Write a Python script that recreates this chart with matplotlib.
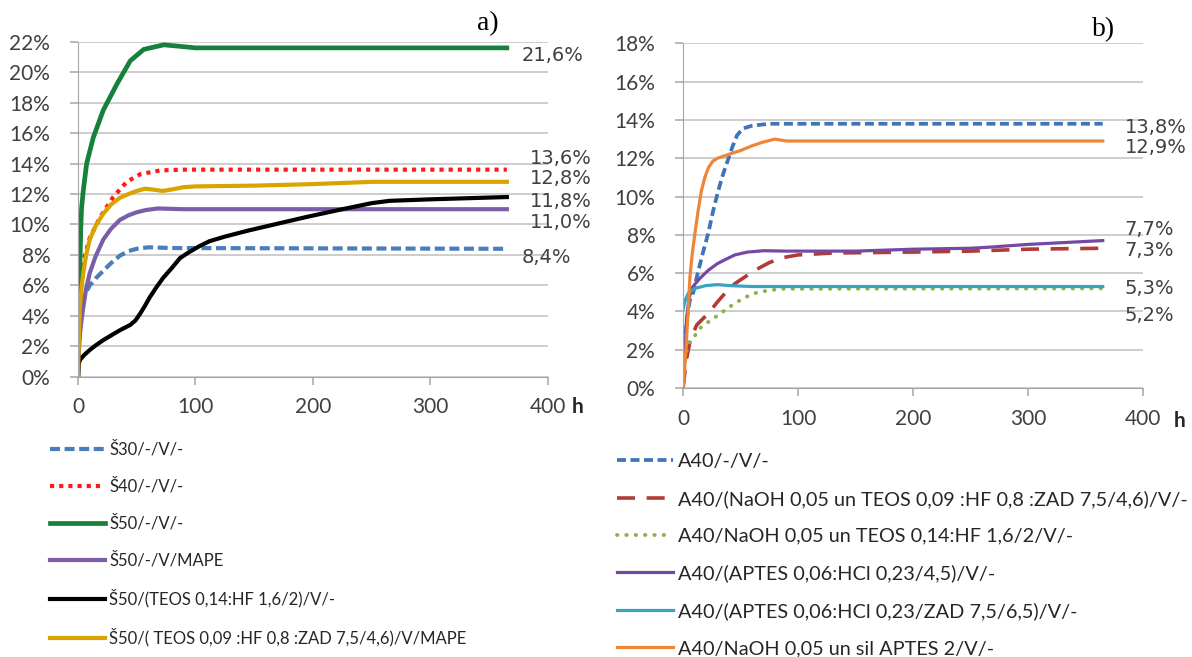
import matplotlib
matplotlib.use("Agg")
import matplotlib.pyplot as plt
from matplotlib.ticker import PercentFormatter, MultipleLocator

plt.rcParams['font.family'] = ['Lato', 'DejaVu Sans']

# a) Š series, time in hours, mass gain in %
t_s30 = [0, 1.5, 3.1, 6, 10, 15, 21.5, 28, 35.7, 43, 50, 60, 80, 365]
v_s30 = [0, 4.0, 4.8, 5.4, 6.0, 6.45, 6.95, 7.45, 7.95, 8.25, 8.4, 8.5, 8.45, 8.4]

t_s40 = [0, 1, 2, 4.5, 10, 18.7, 30, 41.5, 53, 70, 90, 365]
v_s40 = [0, 4.5, 6.2, 7.6, 9.1, 10.45, 11.8, 12.8, 13.3, 13.55, 13.6, 13.6]

t_s50 = [0, 0.5, 1, 1.7, 2.5, 3.1, 4.5, 7.4, 13, 21.5, 33, 44.5, 56, 73, 87, 100, 365]
v_s50 = [0, 4.0, 6.0, 7.5, 10.0, 11.1, 12.2, 14.0, 15.7, 17.5, 19.2, 20.75, 21.5, 21.8, 21.7, 21.6, 21.6]

t_s50_mape = [0, 1, 1.7, 3, 4.5, 7, 10, 15, 21.5, 28, 35.7, 43, 50, 58, 68, 90, 365]
v_s50_mape = [0, 2.0, 2.8, 3.7, 4.55, 5.8, 6.8, 7.9, 9.0, 9.7, 10.3, 10.6, 10.8, 10.95, 11.05, 11.0, 11.0]

t_s50_teos = [0, 0.5, 1.7, 5, 10, 15, 21.5, 28, 35.7, 44.5, 49, 53, 57, 61, 67, 72.6, 80, 87,
              95, 104, 112, 125, 145, 170, 195, 225, 250, 265, 300, 365]
v_s50_teos = [0, 0.8, 1.1, 1.4, 1.75, 2.05, 2.4, 2.7, 3.05, 3.4, 3.7, 4.15, 4.65, 5.2, 5.9, 6.5, 7.15, 7.8,
              8.2, 8.6, 8.9, 9.2, 9.6, 10.05, 10.5, 11.0, 11.4, 11.55, 11.65, 11.8]

t_s50_zad = [0, 0.8, 1.7, 3, 4.5, 7, 10, 15, 21.5, 28, 35.7, 43, 50, 57, 63, 72, 80, 90,
             100, 150, 200, 250, 300, 365]
v_s50_zad = [0, 2.5, 4.6, 5.8, 6.8, 8.0, 9.0, 9.9, 10.7, 11.3, 11.75, 12.0, 12.2, 12.35, 12.3, 12.2, 12.3, 12.45,
             12.5, 12.55, 12.65, 12.8, 12.8, 12.8]

labels_a = ["Š30/-/V/-", "Š40/-/V/-", "Š50/-/V/-", "Š50/-/V/MAPE",
            "Š50/(TEOS 0,14:HF 1,6/2)/V/-", "Š50/( TEOS 0,09 :HF 0,8 :ZAD 7,5/4,6)/V/MAPE"]
end_a = ["21,6%", "13,6%", "12,8%", "11,8%", "11,0%", "8,4%"]

# b) A40 series
t_a40 = [0, 3, 6, 9, 12, 17, 22, 26, 30.6, 35, 39, 43, 47, 52, 60, 75, 365]
v_a40 = [0, 3.5, 4.6, 5.0, 5.8, 7.0, 8.1, 9.2, 10.3, 11.2, 11.9, 12.6, 13.2, 13.55, 13.7, 13.8, 13.8]

t_a40_naoh_zad = [0, 3, 6, 9, 12, 17, 22, 30, 36.5, 45, 55, 62.6, 75, 86, 100, 130, 200, 250, 300, 365]
v_a40_naoh_zad = [0, 1.5, 2.4, 2.9, 3.3, 3.6, 3.9, 4.5, 4.95, 5.45, 5.85, 6.15, 6.55, 6.8, 6.95, 7.05, 7.1, 7.15, 7.25, 7.3]

t_a40_naoh_teos = [0, 2, 4, 8, 12, 16, 22, 28, 35, 42, 50, 58, 65, 75, 86, 365]
v_a40_naoh_teos = [0, 1.5, 2.3, 2.5, 2.9, 3.2, 3.45, 3.7, 4.0, 4.3, 4.6, 4.85, 5.0, 5.1, 5.18, 5.2]

t_a40_aptes = [0, 3, 5, 7.5, 10, 15, 22, 30, 36.5, 45, 56, 70, 90, 150, 200, 250, 265, 300, 365]
v_a40_aptes = [0, 3.5, 4.6, 5.2, 5.4, 5.75, 6.15, 6.5, 6.7, 6.95, 7.1, 7.17, 7.15, 7.15, 7.25, 7.3, 7.35, 7.5, 7.7]

t_a40_aptes_zad = [0, 2, 5, 10, 20, 30, 40, 60, 365]
v_a40_aptes_zad = [4.1, 4.6, 5.0, 5.2, 5.35, 5.4, 5.35, 5.3, 5.3]

t_a40_sil = [0, 2, 3.2, 5, 6, 8, 10.4, 13, 16, 19, 22, 26, 30, 42, 50, 60, 70, 80, 90, 365]
v_a40_sil = [0, 1.5, 2.7, 4.6, 5.8, 7.0, 8.1, 9.2, 10.3, 11.0, 11.5, 11.85, 12.0, 12.25, 12.4, 12.65, 12.85, 13.0, 12.9, 12.9]

labels_b = ["A40/-/V/-", "A40/(NaOH 0,05 un TEOS 0,09 :HF 0,8 :ZAD 7,5/4,6)/V/-",
            "A40/NaOH 0,05 un TEOS 0,14:HF 1,6/2/V/-", "A40/(APTES 0,06:HCl 0,23/4,5)/V/-",
            "A40/(APTES 0,06:HCl 0,23/ZAD 7,5/6,5)/V/-", "A40/NaOH 0,05 un sil APTES 2/V/-"]
end_b = ["13,8%", "12,9%", "7,7%", "7,3%", "5,3%", "5,2%"]

fig = plt.figure(figsize=(11.92, 6.57), dpi=100)
ax1 = fig.add_axes([0.0654, 0.4267, 0.3943, 0.5097])
ax2 = fig.add_axes([0.573, 0.4094, 0.3859, 0.5246])

grid_c = "#c0c0c0"
axis_c = "#a6a6a6"


def style_axes(ax, ymax):
    ax.set_xlim(0, 400)
    ax.set_ylim(0, ymax)
    ax.xaxis.set_major_locator(MultipleLocator(100))
    ax.yaxis.set_major_locator(MultipleLocator(2))
    ax.yaxis.set_major_formatter(PercentFormatter(xmax=100, decimals=0))
    ax.grid(axis='y', color=grid_c, linewidth=1.1)
    ax.set_axisbelow(True)
    for s in ['top', 'right']:
        ax.spines[s].set_visible(False)
    ax.spines['left'].set_color(axis_c)
    ax.spines['bottom'].set_color(axis_c)
    ax.tick_params(axis='both', colors=axis_c, labelcolor="#404040", labelsize=15, length=6, width=1.1)
    ax.tick_params(axis='y', pad=14)
    ax.tick_params(axis='x', pad=9)


style_axes(ax1, 22)
style_axes(ax2, 18)

lw1 = 3.0
ax1.plot(t_s30, v_s30, color="#4a7ebb", lw=lw1, dashes=(2.4, 1.1), label=labels_a[0])
ax1.plot(t_s40, v_s40, color="#ff1a1a", lw=lw1, dashes=(1, 1.2), label=labels_a[1])
ax1.plot(t_s50, v_s50, color="#16813a", lw=lw1 + 0.4, label=labels_a[2])
ax1.plot(t_s50_mape, v_s50_mape, color="#7b5ea8", lw=lw1, label=labels_a[3])
ax1.plot(t_s50_teos, v_s50_teos, color="#000000", lw=lw1, label=labels_a[4])
ax1.plot(t_s50_zad, v_s50_zad, color="#d9a300", lw=lw1, label=labels_a[5])

lw2 = 2.3
ax2.plot(t_a40, v_a40, color="#3f74b8", lw=lw2 + 0.4, dashes=(2.4, 1.2), label=labels_b[0])
ax2.plot(t_a40_naoh_zad, v_a40_naoh_zad, color="#b23b36", lw=lw2 + 0.3, dashes=(5, 3.2), label=labels_b[1])
ax2.plot(t_a40_naoh_teos, v_a40_naoh_teos, color="#8fb04a", lw=lw2 + 0.5, dashes=(0.1, 2.3),
         dash_capstyle='round', label=labels_b[2])
ax2.plot(t_a40_aptes, v_a40_aptes, color="#7548a3", lw=lw2, label=labels_b[3])
ax2.plot(t_a40_aptes_zad, v_a40_aptes_zad, color="#3aa3bf", lw=lw2, label=labels_b[4])
ax2.plot(t_a40_sil, v_a40_sil, color="#ee8537", lw=lw2, label=labels_b[5])

# end value labels beside the curves
ann_kw = dict(fontsize=14, color="#404040", ha='left', va='center', clip_on=False,
              family=['DejaVu Sans'])
pos_a = [(378, 21.1), (385, 14.35), (385, 13.0), (385, 11.5), (385, 10.15), (378, 7.85)]
for (x, y), s in zip(pos_a, end_a):
    ax1.text(x, y, s, **ann_kw)
pos_b = [(384, 13.63), (384, 12.58), (384, 8.3), (384, 7.2), (384, 5.22), (384, 3.81)]
for (x, y), s in zip(pos_b, end_b):
    ax2.text(x, y, s, **ann_kw)

# axis unit
ax1.text(1.063, -0.09, "h", transform=ax1.transAxes, fontsize=15, fontweight='bold',
         color="#262626", ha='center', va='center')
ax2.text(1.08, -0.095, "h", transform=ax2.transAxes, fontsize=15, fontweight='bold',
         color="#262626", ha='center', va='center')

fig.text(488 / 1192, 1 - 24 / 657, "a)", fontsize=20, family='Liberation Serif', ha='center', va='center')
fig.text(1104 / 1192, 1 - 30 / 657, "b)", fontsize=20, family='Liberation Serif', ha='center', va='center')

leg_kw = dict(loc='upper left', frameon=False, handletextpad=0.25,
              borderpad=0, borderaxespad=0, bbox_transform=fig.transFigure)
leg1 = ax1.legend(bbox_to_anchor=(50 / 1192, 1 - 441 / 657), fontsize=12.0, handlelength=3.3,
                  labelspacing=1.23, **leg_kw)
leg2 = ax2.legend(bbox_to_anchor=(617 / 1192, 1 - 453 / 657), fontsize=14.3, handlelength=2.8,
                  labelspacing=1.0, **leg_kw)
for leg in (leg1, leg2):
    for txt in leg.get_texts():
        txt.set_color("#262626")

fig.savefig("out.png", dpi=100)
